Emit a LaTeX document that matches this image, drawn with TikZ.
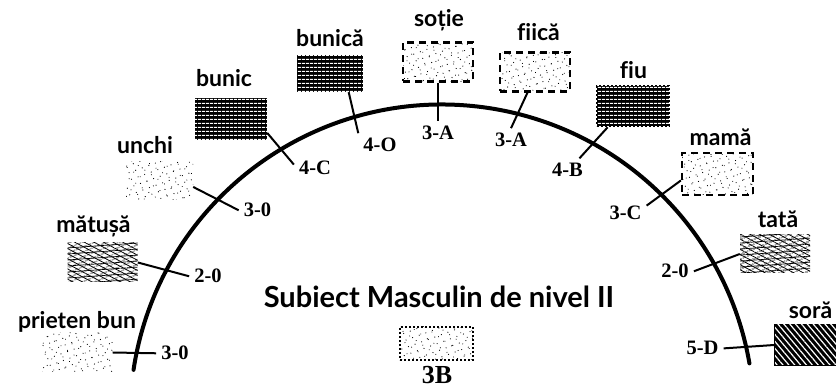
\documentclass[tikz,border=0pt]{standalone}
\usepackage{fontspec}
\setmainfont{Liberation Serif}
\newfontfamily\wordfont{Lato}[Ligatures=NoCommon]
\usetikzlibrary{patterns.meta}

\begin{document}
\begin{tikzpicture}[x=1pt,y=1pt]
  \tikzstyle{word}=[font=\wordfont\bfseries\fontsize{23}{25}\selectfont,anchor=base,inner sep=0pt]
  \tikzstyle{code}=[font=\bfseries\fontsize{20.5}{22}\selectfont,anchor=base,inner sep=5pt]
  \tikzstyle{swatch}=[rectangle,minimum width=70pt,minimum height=39pt,inner sep=0pt]
  \tikzstyle{speckle}=[swatch,preaction={pattern={Dots[distance=7pt,radius=0.6pt,angle=20]}},pattern={Dots[distance=8pt,radius=0.55pt,angle=-35]}]
  \tikzstyle{scribble}=[swatch,preaction={pattern={Lines[angle=22,distance=4pt,line width=0.8pt]}},preaction={pattern={Lines[angle=-28,distance=4.5pt,line width=0.8pt]}},pattern={Lines[angle=4,distance=6pt,line width=0.7pt]}]
  \tikzstyle{streaks}=[swatch,fill=black,postaction={pattern={Lines[angle=0,distance=4pt,line width=1.2pt]},pattern color=white}]
  \tikzstyle{slashes}=[swatch,draw,line width=1.5pt,fill=black,postaction={pattern={Lines[angle=-50,distance=4.5pt,line width=1.2pt]},pattern color=white}]
  \tikzstyle{dashframe}=[draw,line width=2.2pt,dash pattern=on 7pt off 5pt]
  \tikzstyle{dotframe}=[draw,line width=2.5pt,dash pattern=on 2pt off 2pt]
  \tikzstyle{tick}=[line width=2pt]

  \useasboundingbox (0,0) rectangle (836,391);
  \coordinate (c) at (442,-25.5);
  \draw[line width=4pt,line cap=round] (c) ++(171.4:312pt) arc[start angle=171.4,end angle=9.8,radius=312pt];

  \node[speckle] (pbbox) at (77.5,38.5) {};
  \node[word] (pb) at (77,62) {prieten bun};
  \node[code] (pbnum) at (175,31) {3-0};

  \node[scribble] (mabox) at (102.5,128.5) {};
  \node[word] (ma) at (93.5,158) {mătușă};
  \node[code] (manum) at (208,108) {2-0};

  \node[speckle,minimum width=67pt,minimum height=38pt] (unbox) at (159.5,210) {};
  \node[word] (un) at (145,237) {unchi};
  \node[code] (unnum) at (257.5,174) {3-0};

  \node[streaks,minimum width=72pt,minimum height=42pt] (bcbox) at (231,272) {};
  \node[word] (bc) at (224,304) {bunic};
  \node[code] (bcnum) at (315,216) {4-C};

  \node[streaks,minimum width=66pt,minimum height=37pt] (bcabox) at (330,317.5) {};
  \node[word] (bca) at (330,344) {bunică};
  \node[code] (bcanum) at (380,239) {4-O};

  \node[speckle,dashframe] (sobox) at (438,329) {};
  \node[word] (so) at (439,364) {soție};
  \node[code] (sonum) at (438,251) {3-A};

  \node[speckle,dashframe] (fcbox) at (535,319) {};
  \node[word] (fc) at (538.5,350) {fiică};
  \node[code] (fcnum) at (511,244) {3-A};

  \node[streaks,dotframe,minimum width=72pt,minimum height=40pt] (fubox) at (633,285) {};
  \node[word] (fu) at (633.5,312) {fiu};
  \node[code] (funum) at (567.5,214) {4-B};

  \node[speckle,dashframe,minimum width=71pt,minimum height=42pt] (mmbox) at (717.5,217) {};
  \node[word] (mm) at (720.5,245) {mamă};
  \node[code] (mmnum) at (625.5,171) {3-C};

  \node[scribble,minimum height=38pt] (ttbox) at (775,137) {};
  \node[word] (tt) at (778,163) {tată};
  \node[code] (ttnum) at (675,113) {2-0};

  \node[slashes,minimum width=61pt,minimum height=40pt] (srbox) at (805.5,46) {};
  \node[word] (sr) at (810.5,72) {soră};
  \node[code] (srnum) at (702.5,36) {5-D};

  \node[word,font=\wordfont\bfseries\fontsize{29}{32}\selectfont] (subj) at (439,83) {Subiect Masculin de nivel II};
  \node[speckle,dotframe,minimum width=73pt,minimum height=33pt] (subjbox) at (436.5,47.5) {};
  \node[code,inner sep=1pt,font=\bfseries\fontsize{26}{29}\selectfont] (subjnum) at (437,7) {3B};

  \draw[tick] (pbbox.east) -- (pbnum.west);
  \draw[tick] (mabox.east) -- (manum.west);
  \draw[tick] (unbox.-10) -- (unnum.west);
  \draw[tick] (bcbox.-21) -- (bcnum.170);
  \draw[tick] (bcabox.-45) -- (bcanum.north west);
  \draw[tick] (sobox.south) -- (sonum.north);
  \draw[tick] (fcbox.-110) -- (fcnum.north);
  \draw[tick] (fubox.-140) -- (funum.45);
  \draw[tick] (mmbox.190) -- (mmnum.20);
  \draw[tick] (ttbox.west) -- (ttnum.east);
  \draw[tick] (srbox.west) -- (srnum.east);
\end{tikzpicture}
\end{document}
